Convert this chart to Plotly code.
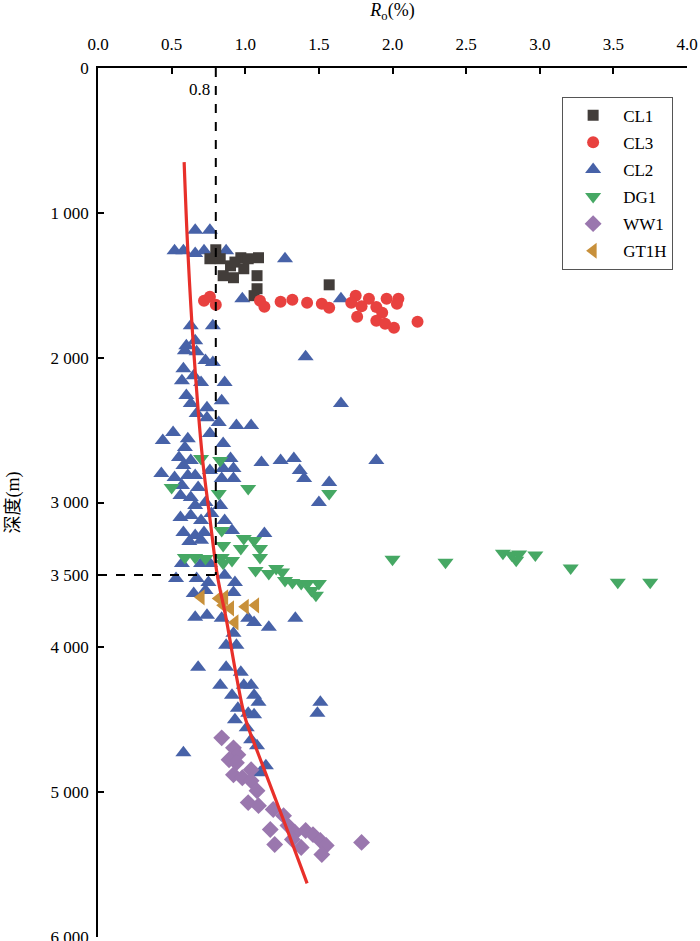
import plotly.graph_objects as go

# ── DATA (Ro %, depth m) ────────────────────────────────────────────────────

CL1_RO = [0.80, 0.76, 0.83, 0.90, 0.97, 1.02, 1.09, 0.93, 0.99, 0.85, 0.92, 1.08, 1.08, 1.06, 1.57]
CL1_DEPTH = [1255, 1317, 1317, 1366, 1310, 1317, 1310, 1340, 1386, 1434, 1448, 1434, 1524, 1572, 1497]

CL3_RO = [0.72, 0.76, 0.80, 1.10, 1.13, 1.24, 1.32, 1.42, 1.52, 1.57, 1.75, 1.72,
          1.79, 1.84, 1.89, 1.96, 2.04, 2.03, 1.93, 1.76, 1.89, 1.95, 2.01, 2.17]
CL3_DEPTH = [1607, 1579, 1634, 1607, 1648, 1614, 1600, 1621, 1627, 1655, 1572, 1621,
             1645, 1593, 1650, 1593, 1593, 1627, 1690, 1717, 1745, 1766, 1793, 1752]

CL2_RO = [0.66, 0.76, 0.52, 0.58, 0.66, 0.72, 0.87, 1.27, 0.63, 0.78, 0.98, 1.65, 0.60, 0.66,
          1.41, 1.65, 0.59, 0.67, 0.73, 0.78, 0.58, 0.57, 0.65, 0.70, 0.86, 0.60, 0.63, 0.74,
          0.84, 0.67, 0.74, 0.82, 0.76, 0.94, 1.04, 0.51, 0.44, 0.61, 0.59, 0.85, 0.55, 0.63,
          0.58, 0.90, 1.11, 1.24, 1.33, 1.37, 1.40, 1.57, 1.50, 0.43, 0.52, 0.61, 0.66, 0.76,
          0.85, 0.92, 0.92, 0.84, 0.57, 0.68, 0.63, 0.56, 0.73, 0.66, 0.83, 0.56, 0.63, 0.70,
          0.77, 0.86, 0.58, 0.66, 0.72, 0.91, 1.13, 1.89, 0.62, 0.70,
          0.57, 0.70, 0.76, 0.53, 0.67, 0.75, 0.86, 0.93, 0.65, 0.73, 0.92, 0.66, 0.74, 0.84,
          1.02, 1.06, 1.16, 1.34, 0.92, 0.87, 0.94, 0.68, 0.87, 0.97, 0.83, 0.99, 1.04, 0.91,
          1.06, 1.09, 1.51, 0.95, 1.02, 1.49, 0.93, 1.06, 1.01, 1.04, 1.08, 0.58, 1.14, 1.10]
CL2_DEPTH = [1120, 1120, 1262, 1262, 1280, 1262, 1262, 1317, 1779, 1779, 1593, 1593, 1917, 1883,
             1993, 2317, 1952, 1960, 2020, 2034, 2076, 2159, 2124, 2172, 2172, 2262, 2317, 2345,
             2297, 2386, 2414, 2448, 2524, 2469, 2469, 2517, 2572, 2559, 2621, 2593, 2690, 2710,
             2745, 2697, 2724, 2710, 2697, 2779, 2834, 2862, 3000, 2800, 2828, 2814, 2814, 2779,
             2766, 2766, 2834, 2834, 2883, 2897, 2966, 2952, 3000, 3021, 3021, 3103, 3090, 3124,
             3076, 3124, 3207, 3228, 3207, 3193, 3214, 2710, 3270, 3260,
             3421, 3421, 3421, 3524, 3524, 3552, 3503, 3552, 3628, 3607, 3621, 3793, 3779, 3800,
             3800, 3828, 3862, 3800, 3903, 3986, 3986, 4138, 4138, 4172, 4262, 4262, 4262, 4331,
             4331, 4379, 4379, 4421, 4455, 4455, 4500, 4466, 4555, 4638, 4680, 4728, 4817, 4866]

DG1_RO = [0.70, 0.83, 0.50, 1.02, 0.82, 1.57, 0.84, 0.99, 1.06, 0.85, 0.97, 1.10, 1.10, 0.59,
          0.66, 0.73, 0.84, 0.91, 0.85, 1.07, 1.16, 1.21, 1.25, 1.27, 1.32, 1.38, 1.42, 1.50,
          1.45, 1.48, 2.00, 2.36, 2.75, 2.81, 2.86, 2.84, 2.97, 3.21, 3.53, 3.75]
DG1_DEPTH = [2697, 2710, 2897, 2903, 2938, 2938, 3193, 3248, 3262, 3297, 3317, 3317, 3379, 3379,
             3379, 3386, 3379, 3400, 3420, 3469, 3490, 3455, 3480, 3538, 3552, 3559, 3559, 3559,
             3607, 3641, 3391, 3412, 3350, 3363, 3355, 3398, 3363, 3453, 3550, 3550]

WW1_RO = [0.84, 0.92, 0.95, 0.89, 0.94, 1.04, 0.92, 0.98, 1.04, 1.08, 1.02, 1.09, 1.19,
          1.26, 1.17, 1.29, 1.34, 1.41, 1.46, 1.32, 1.20, 1.38, 1.51, 1.55, 1.52, 1.79]
WW1_DEPTH = [4625, 4694, 4742, 4776, 4797, 4845, 4880, 4900, 4921, 4990, 5072, 5093, 5120,
             5162, 5258, 5231, 5279, 5265, 5293, 5327, 5361, 5382, 5334, 5368, 5430, 5347]

GT1H_RO = [0.70, 0.82, 0.86, 0.85, 0.90, 1.00, 1.07, 0.93]
GT1H_DEPTH = [3655, 3662, 3655, 3710, 3731, 3720, 3710, 3828]

TREND_RO = [0.585, 0.61, 0.65, 0.71, 0.76, 0.81, 0.87, 0.94, 1.00, 1.09, 1.27, 1.42]
TREND_DEPTH = [650, 1260, 1950, 2700, 3110, 3500, 3800, 4200, 4490, 4740, 5220, 5630]

REF_RO = 0.8
REF_DEPTH = 3500

X_TICKS = [0.0, 0.5, 1.0, 1.5, 2.0, 2.5, 3.0, 3.5, 4.0]
Y_TICKS = [0, 1000, 2000, 3000, 3500, 4000, 5000, 6000]
Y_TICK_TEXT = ["0", "1 000", "2 000", "3 000", "3 500", "4 000", "5 000", "6 000"]

FONT = "Liberation Serif, Times New Roman, Noto Sans CJK SC, serif"

# ── FIGURE ────────────────────────────────────────────────────────────────────

# (name, x, y, symbol, colour, size, legend rank); drawn in this order
SERIES = [
    ("CL2", CL2_RO, CL2_DEPTH, "triangle-up", "#4762a8", 14, 3),
    ("DG1", DG1_RO, DG1_DEPTH, "triangle-down", "#46a864", 14, 4),
    ("GT1H", GT1H_RO, GT1H_DEPTH, "triangle-left", "#c8903a", 14, 6),
    ("WW1", WW1_RO, WW1_DEPTH, "diamond", "#9a77ae", 13, 5),
    ("CL1", CL1_RO, CL1_DEPTH, "square", "#423d3a", 11, 1),
    ("CL3", CL3_RO, CL3_DEPTH, "circle", "#e8413f", 12, 2),
]

fig = go.Figure()

for name, xs, ys, sym, col, size, rank in SERIES:
    fig.add_trace(go.Scatter(
        x=xs, y=ys, mode="markers", name=name,
        marker=dict(symbol=sym, color=col, size=size, line=dict(width=0)),
        legendrank=rank, legendgroup=name,
    ))

fig.add_trace(go.Scatter(
    x=TREND_RO, y=TREND_DEPTH, mode="lines",
    line=dict(color="#e8302a", width=3.2, shape="spline"),
    showlegend=False,
))

# 0.8 % / 3 500 m guide lines
fig.add_shape(type="line", x0=REF_RO, x1=REF_RO, y0=0, y1=REF_DEPTH, xref="x", yref="y",
              line=dict(color="black", width=2, dash="dash"))
fig.add_shape(type="line", x0=0, x1=REF_RO, y0=REF_DEPTH, y1=REF_DEPTH, xref="x", yref="y",
              line=dict(color="black", width=2, dash="dash"))
fig.add_annotation(x=REF_RO, y=150, xref="x", yref="y", text="0.8", showarrow=False,
                   xanchor="right", xshift=-4, font=dict(size=17, color="black", family=FONT))

fig.update_layout(
    width=700, height=941,
    margin=dict(l=98, r=13, t=68, b=4),
    paper_bgcolor="white", plot_bgcolor="white",
    font=dict(family=FONT, size=17, color="black"),
    legend=dict(
        x=0.788, y=0.967, xanchor="left", yanchor="top",
        bordercolor="#555555", borderwidth=1, bgcolor="white",
        font=dict(size=17, family=FONT), tracegroupgap=2,
        traceorder="grouped", itemwidth=50,
    ),
    xaxis=dict(
        side="top", range=[0, 4], tickvals=X_TICKS, tickformat=".1f",
        ticks="inside", ticklen=6, tickcolor="black", tickwidth=1.5,
        showline=True, linecolor="black", linewidth=1.5,
        showgrid=False, zeroline=False, ticklabelstandoff=9,
        ticklabeloverflow="allow", automargin=False,
        title=dict(text="<i>R</i><sub>o</sub>(%)", standoff=14, font=dict(size=18)),
    ),
    yaxis=dict(
        range=[6000, 0], tickvals=Y_TICKS, ticktext=Y_TICK_TEXT,
        ticks="inside", ticklen=6, tickcolor="black", tickwidth=1.5,
        showline=True, linecolor="black", linewidth=1.5,
        showgrid=False, zeroline=False, ticklabelstandoff=4,
        ticklabeloverflow="allow", automargin=False,
        title=dict(text="深度(m)", standoff=26, font=dict(size=18)),
    ),
)

# drop the page's default body margin so the 700x941 figure fills the window
fig.write_html("out.html",
               config={"displayModeBar": False},
               post_script="document.body.style.margin='0';"
                           "document.body.style.overflow='hidden';")
